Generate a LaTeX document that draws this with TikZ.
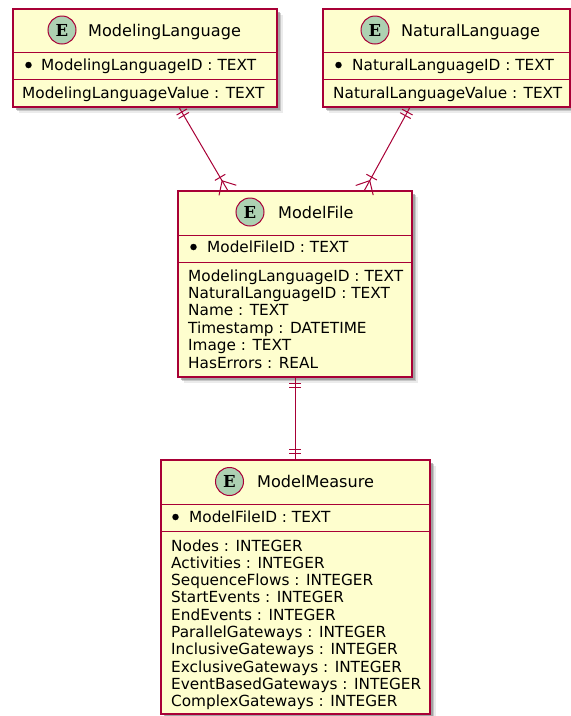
\documentclass[tikz,border=0pt]{standalone}
\usepackage{fontspec}
\setmainfont{DejaVu Sans}
\newfontfamily\eserif{DejaVu Serif}
\usetikzlibrary{calc,shadows}
\definecolor{umlborder}{HTML}{A80036}
\definecolor{umlfill}{HTML}{FEFECE}
\definecolor{umlcircle}{HTML}{ADD1B2}
\tikzset{
  entity/.style={draw=umlborder, fill=umlfill, line width=1.4pt, inner sep=0pt,
    drop shadow={shadow xshift=2.5pt, shadow yshift=-2.5pt, fill=black!60, opacity=0.45},
    drop shadow={shadow xshift=4pt, shadow yshift=-4pt, fill=black!50, opacity=0.35},
    drop shadow={shadow xshift=5.5pt, shadow yshift=-5.5pt, fill=black!40, opacity=0.2}},
  ebadge/.style={circle, draw=umlborder, fill=umlcircle, line width=1pt, minimum size=28pt,
    inner sep=0pt, font=\eserif\bfseries\fontsize{16.5}{16.5}\selectfont},
  etitle/.style={anchor=base west, inner sep=0pt, font=\fontsize{16.1}{19}\selectfont},
  attr/.style={anchor=base west, inner sep=0pt, font=\fontsize{15.3}{17}\selectfont},
  keydot/.style={circle, fill=black, inner sep=0pt, minimum size=6.5pt},
  sepline/.style={draw=umlborder, line width=1pt},
  rel/.style={draw=umlborder, line width=1pt},
}
\begin{document}
\begin{tikzpicture}[x=1pt, y=-1pt]
\useasboundingbox (0,0) rectangle (571,716);

% ---------- ModelingLanguage ----------
\node[entity, minimum width=264pt, minimum height=98pt] (ml) at (145,58) {};
\draw[sepline] (ml.west |- 0,52) -- (ml.east |- 0,52);
\draw[sepline] (ml.west |- 0,79) -- (ml.east |- 0,79);
\node[ebadge] (ml-c) at (62,30) {E};
\node[etitle] (ml-t) at (88,36) {ModelingLanguage};
\node[keydot] (ml-d) at (28.5,65) {};
\node[attr] (ml-k) at (41,70) {ModelingLanguageID : TEXT};
\node[attr] (ml-v) at (22,98) {ModelingLanguageValue : TEXT};

% ---------- NaturalLanguage ----------
\node[entity, minimum width=247pt, minimum height=98pt] (nl) at (446.5,58) {};
\draw[sepline] (nl.west |- 0,52) -- (nl.east |- 0,52);
\draw[sepline] (nl.west |- 0,79) -- (nl.east |- 0,79);
\node[ebadge] (nl-c) at (375,30) {E};
\node[etitle] (nl-t) at (401,36) {NaturalLanguage};
\node[keydot] (nl-d) at (338.5,65) {};
\node[attr] (nl-k) at (352,70) {NaturalLanguageID : TEXT};
\node[attr] (nl-v) at (333,98) {NaturalLanguageValue : TEXT};

% ---------- ModelFile ----------
\node[entity, minimum width=234pt, minimum height=186pt] (mf) at (295,284) {};
\draw[sepline] (mf.west |- 0,235) -- (mf.east |- 0,235);
\draw[sepline] (mf.west |- 0,262) -- (mf.east |- 0,262);
\node[ebadge] (mf-c) at (250,212) {E};
\node[etitle] (mf-t) at (278,218) {ModelFile};
\node[keydot] (mf-d) at (193.5,247) {};
\node[attr] (mf-k) at (207,252) {ModelFileID : TEXT};
\foreach \t [count=\i from 0] in {ModelingLanguageID : TEXT, NaturalLanguageID : TEXT,
    Name : TEXT, Timestamp : DATETIME, Image : TEXT, HasErrors : REAL}
  \node[attr] (mf-a\i) at (188,281+17.4*\i) {\t};

% ---------- ModelMeasure ----------
\node[entity, minimum width=269pt, minimum height=254pt] (mm) at (295.5,587) {};
\draw[sepline] (mm.west |- 0,504) -- (mm.east |- 0,504);
\draw[sepline] (mm.west |- 0,531) -- (mm.east |- 0,531);
\node[ebadge] (mm-c) at (229.5,481.5) {E};
\node[etitle] (mm-t) at (257,487) {ModelMeasure};
\node[keydot] (mm-d) at (175.5,517) {};
\node[attr] (mm-k) at (189,522) {ModelFileID : TEXT};
\foreach \t [count=\i from 0] in {Nodes : INTEGER, Activities : INTEGER,
    SequenceFlows : INTEGER, StartEvents : INTEGER, EndEvents : INTEGER,
    ParallelGateways : INTEGER, InclusiveGateways : INTEGER,
    ExclusiveGateways : INTEGER, EventBasedGateways : INTEGER,
    ComplexGateways : INTEGER}
  \node[attr] (mm-a\i) at (171,551+17.33*\i) {\t};

% ---------- relations ----------
% ModelingLanguage ||--|{ ModelFile
\coordinate (a1) at ($(ml.south west)!0.629!(ml.south east)$);
\coordinate (b1) at ($(mf.north west)!0.214!(mf.north east)$);
\draw[rel] (a1) -- (b1);
\draw[rel] ($(a1)!5pt!(b1)!6pt!90:(b1)$) -- ($(a1)!5pt!(b1)!6pt!-90:(b1)$);
\draw[rel] ($(a1)!9pt!(b1)!6pt!90:(b1)$) -- ($(a1)!9pt!(b1)!6pt!-90:(b1)$);
\draw[rel] ($(b1)!15pt!(a1)!6pt!90:(a1)$) -- ($(b1)!15pt!(a1)!6pt!-90:(a1)$);
\draw[rel] ($(b1)!10pt!90:(a1)$) -- ($(b1)!11pt!(a1)$) -- ($(b1)!10pt!-90:(a1)$);

% NaturalLanguage ||--|{ ModelFile
\coordinate (a2) at ($(nl.south west)!0.352!(nl.south east)$);
\coordinate (b2) at ($(mf.north west)!0.795!(mf.north east)$);
\draw[rel] (a2) -- (b2);
\draw[rel] ($(a2)!5pt!(b2)!6pt!90:(b2)$) -- ($(a2)!5pt!(b2)!6pt!-90:(b2)$);
\draw[rel] ($(a2)!9pt!(b2)!6pt!90:(b2)$) -- ($(a2)!9pt!(b2)!6pt!-90:(b2)$);
\draw[rel] ($(b2)!15pt!(a2)!6pt!90:(a2)$) -- ($(b2)!15pt!(a2)!6pt!-90:(a2)$);
\draw[rel] ($(b2)!10pt!90:(a2)$) -- ($(b2)!11pt!(a2)$) -- ($(b2)!10pt!-90:(a2)$);

% ModelFile ||--|| ModelMeasure
\coordinate (a3) at (mf.south);
\coordinate (b3) at (mf.south |- mm.north);
\draw[rel] (a3) -- (b3);
\foreach \d in {6,10} {
  \draw[rel] ($(a3)!\d pt!(b3)!6pt!90:(b3)$) -- ($(a3)!\d pt!(b3)!6pt!-90:(b3)$);
  \draw[rel] ($(b3)!\d pt!(a3)!6pt!90:(a3)$) -- ($(b3)!\d pt!(a3)!6pt!-90:(a3)$);
}
\end{tikzpicture}
\end{document}
